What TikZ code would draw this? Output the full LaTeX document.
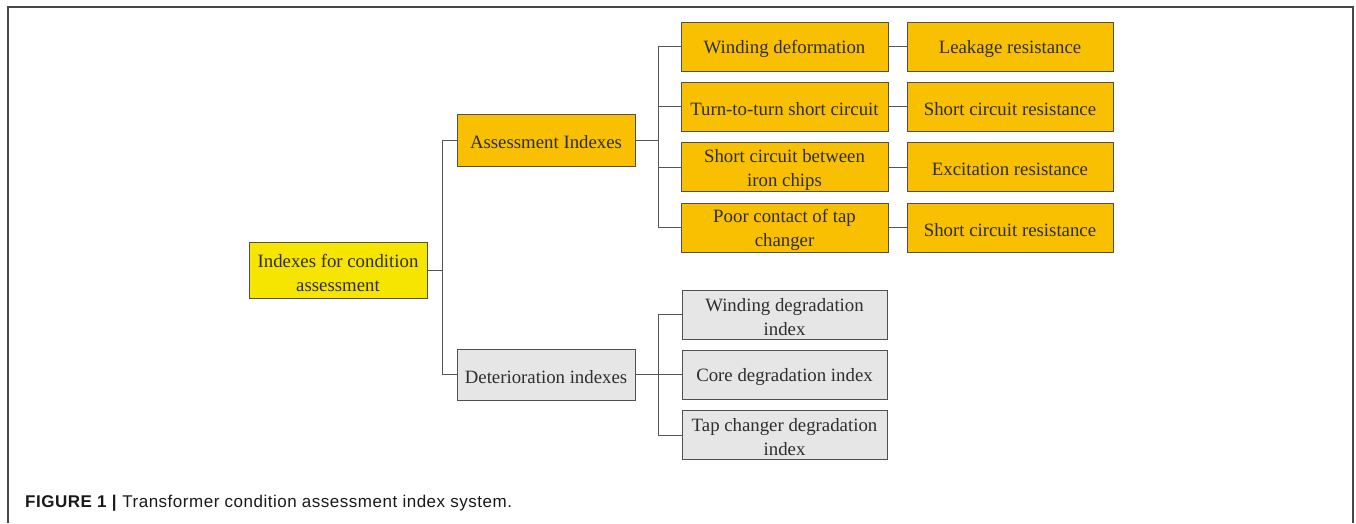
\documentclass[tikz,border=0pt]{standalone}
\usepackage{fontspec}
\setmainfont{Liberation Serif}
\newfontfamily\capfont[LetterSpace=3]{Liberation Sans}
\definecolor{rootyel}{HTML}{F6E500}
\definecolor{orng}{HTML}{F8C000}
\definecolor{lgray}{HTML}{E6E6E6}
\definecolor{bord}{HTML}{505050}
\definecolor{txt}{HTML}{2E2E2E}
\definecolor{conn}{HTML}{555555}
\begin{document}
\begin{tikzpicture}[x=1pt,y=-1pt,
  txtlab/.style={align=center,inner sep=0pt,text=txt,font=\fontsize{18.8}{24}\selectfont,yshift=-2.5pt},
  tx/.style={label={[txtlab]center:{#1}}},
  box/.style={draw=bord,line width=0.9pt,rectangle,inner sep=0pt},
  rootbox/.style={box,fill=rootyel,minimum width=178pt,minimum height=56pt},
  midbox/.style={box,fill=orng,minimum width=178pt,minimum height=52pt},
  graymid/.style={box,fill=lgray,minimum width=178pt,minimum height=51pt},
  lthree/.style={box,fill=orng,minimum width=207pt,minimum height=49pt},
  lfour/.style={box,fill=orng,minimum width=206pt,minimum height=49pt},
  gthree/.style={box,fill=lgray,minimum width=205pt,minimum height=49pt},
  conline/.style={draw=conn,line width=0.9pt}]
\useasboundingbox (0,0) rectangle (1356,523);
% frame
\draw[line width=2pt,draw=black!72] (8,523) -- (8,6.5) -- (1352.5,6.5) -- (1352.5,523);
% nodes
\node[rootbox,tx={Indexes for condition\\assessment}] (root) at (338,270) {};
\node[midbox,tx={Assessment Indexes}] (A) at (546,140) {};
\node[graymid,tx={Deterioration indexes}] (D) at (546,374.5) {};
\node[lthree,tx={Winding deformation}] (w1) at (784.5,46.5) {};
\node[lthree,tx={Turn-to-turn short circuit}] (w2) at (784.5,106.5) {};
\node[lthree,tx={Short circuit between\\iron chips}] (w3) at (784.5,167) {};
\node[lthree,tx={Poor contact of tap\\changer}] (w4) at (784.5,227.5) {};
\node[lfour,tx={Leakage resistance}] (r1) at (1010,46.5) {};
\node[lfour,tx={Short circuit resistance}] (r2) at (1010,106.5) {};
\node[lfour,tx={Excitation resistance}] (r3) at (1010,167) {};
\node[lfour,tx={Short circuit resistance}] (r4) at (1010,227.5) {};
\node[gthree,tx={Winding degradation\\index}] (g1) at (784.5,314.5) {};
\node[gthree,tx={Core degradation index}] (g2) at (784.5,374.5) {};
\node[gthree,tx={Tap changer degradation\\index}] (g3) at (784.5,435) {};
% bus coordinates
\coordinate (b1) at (442,0);
\coordinate (b2) at (658,0);
% connectors
\draw[conline] (root.east) -- (root.east -| b1);
\draw[conline] (A.west) -- (A.west -| b1) -- (D.west -| b1) -- (D.west);
\draw[conline] (A.east) -- (A.east -| b2);
\draw[conline] (w1.west) -- (w1.west -| b2) -- (w4.west -| b2) -- (w4.west);
\draw[conline] (w2.west) -- (w2.west -| b2);
\draw[conline] (w3.west) -- (w3.west -| b2);
\draw[conline] (w1.east) -- (r1.west);
\draw[conline] (w2.east) -- (r2.west);
\draw[conline] (w3.east) -- (r3.west);
\draw[conline] (w4.east) -- (r4.west);
\draw[conline] (D.east) -- (D.east -| b2);
\draw[conline] (g1.west) -- (g1.west -| b2) -- (g3.west -| b2) -- (g3.west);
\draw[conline] (g2.west) -- (g2.west -| b2);
% caption
\node[anchor=base west,inner sep=0pt,font=\capfont\fontsize{17}{19}\selectfont,text=black!90] (cap) at (25,507)
  {\textbf{FIGURE 1 |} Transformer condition assessment index system.};
\end{tikzpicture}
\end{document}
